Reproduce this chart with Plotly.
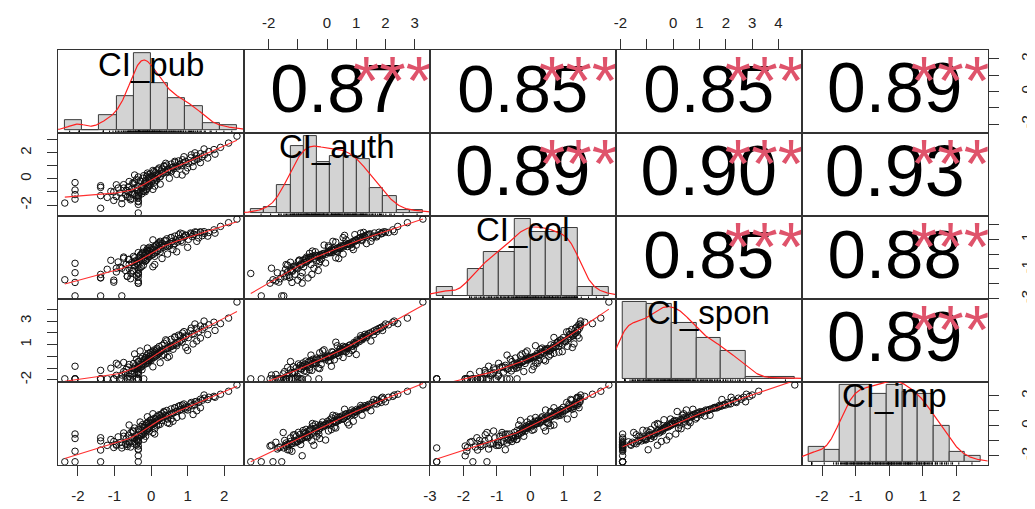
import numpy as np
import plotly.graph_objects as go

# ---------------- data (read / estimated from the reference) ----------------
var_names = ["CI_pub", "CI_auth", "CI_col", "CI_spon", "CI_imp"]

ci_pub = [-2.36, -2.08, -2.08, -2.08, -1.38, -1.38, -1.38, -1.20, -1.10, -1.02,
          -0.95, -0.90, -0.85, -0.80, -0.75, -0.70, -0.68, -0.65, -0.62, -0.60,
          -0.56, -0.53, -0.50, -0.48, -0.45, -0.42, -0.40, -0.38, -0.35, -0.35,
          -0.35, -0.35, -0.35, -0.33, -0.30, -0.28, -0.26, -0.25, -0.23, -0.21,
          -0.20, -0.18, -0.16, -0.15, -0.13, -0.12, -0.10, -0.09, -0.08, -0.06,
          -0.05, -0.04, -0.03, -0.02, 0.02, 0.04, 0.06, 0.08, 0.10, 0.12,
          0.14, 0.16, 0.18, 0.20, 0.22, 0.25, 0.28, 0.30, 0.33, 0.36,
          0.40, 0.43, 0.47, 0.52, 0.55, 0.58, 0.62, 0.65, 0.68, 0.72,
          0.75, 0.78, 0.82, 0.86, 0.90, 0.95, 1.02, 1.08, 1.12, 1.18,
          1.24, 1.30, 1.35, 1.40, 1.46, 1.58, 1.72, 1.90, 2.12, 2.35,
          -0.60, -0.35, -0.95, -0.20, -0.50, -0.35, -0.75, 0.05, -0.40, -0.25,
          -0.60, 0.10, -0.35, -0.15, 0.25, -0.45, -0.05, -0.30, 0.30, -0.20,
          0.15, 0.45, -0.10, 0.50, 0.20, 0.70, 0.05, 0.60, 0.85, 0.35,
          0.55, 1.00, 0.40, 0.95, 0.65, 1.15, 0.80, 1.25, 0.90, 1.35,
          1.10, 1.55, 1.20, 1.75, 1.45, -1.38, -0.35, -0.80, -1.02, -0.55,
          -0.65, -0.35, -2.08, -0.35, 0.00, 0.10, 0.45, -0.10, 0.25, -0.45]

ci_auth = [-1.85, -1.55, -0.85, -0.28, -2.25, -1.28, -0.52, -1.42, -0.95, -1.65,
           -1.35, -0.70, -1.08, -1.48, -0.44, -1.20, -0.87, -1.38, -0.60, -1.02,
           -1.60, -0.78, -1.18, -0.36, -1.12, -0.67, -1.30, -0.90, -2.61, -1.95,
           -1.75, -1.45, -1.25, -0.55, -1.05, -0.20, -1.15, -0.75, 0.05, -0.92,
           -0.63, -0.32, -0.98, -0.10, -0.82, 0.20, -0.72, -0.40, 0.32, -0.57,
           -0.15, 0.12, -0.48, 0.40, -0.24, 0.28, -0.05, 0.56, 0.09, 0.48,
           0.02, 0.68, 0.24, 0.36, 0.84, 0.16, 0.60, 0.76, 0.44, 0.95,
           0.52, 1.06, 0.72, 0.64, 1.14, 0.88, 0.80, 1.26, 0.98, 0.92,
           1.38, 1.10, 1.02, 1.47, 1.22, 1.34, 1.18, 1.62, 1.30, 1.42,
           1.78, 1.55, 1.94, 1.70, 1.86, 2.10, 2.25, 2.42, 2.75, 3.28,
           -1.40, -1.10, -0.45, -0.95, -0.30, -1.25, -0.70, -0.80, -0.05, -0.60,
           -0.20, -0.55, 0.15, -0.35, -0.40, 0.30, 0.05, -0.15, 0.40, 0.25,
           -0.10, 0.55, 0.45, 0.05, 0.75, 0.35, 0.65, 0.90, 0.30, 1.00,
           0.55, 0.85, 1.20, 0.60, 1.35, 0.95, 1.15, 1.50, 1.70, 1.25,
           1.85, 1.60, 2.00, 1.90, 2.30, -0.65, -1.70, -1.90, -1.00, -1.50,
           -0.90, -1.35, -1.20, -0.85, 0.10, -0.25, 0.70, -0.50, 0.20, -0.25]

ci_col = [-1.72, -2.80, -1.25, -0.62, -2.80, -1.58, -1.36, -1.02, -0.42, -1.88,
          -1.20, -0.53, -0.88, -2.80, -0.28, -1.10, -0.70, -1.48, -0.37, -0.97,
          -1.65, -0.57, -1.15, -0.16, -0.80, -0.45, -1.42, -0.66, -1.30, -1.95,
          -1.80, -1.52, -1.06, -0.22, -0.92, -0.04, -0.84, -0.34, 0.11, -0.75,
          -0.25, -0.10, -0.48, 0.05, -0.40, 0.26, -0.31, -0.08, 0.20, -0.19,
          0.02, 0.17, -0.13, 0.36, -0.06, 0.30, -0.02, 0.48, 0.08, 0.55,
          0.14, 0.64, 0.23, 0.40, 0.76, 0.33, 0.58, 0.70, 0.44, 0.88,
          0.52, 1.02, 0.67, 0.73, 1.11, 0.84, 0.61, 1.20, 0.95, 0.80,
          1.29, 1.05, 0.91, 1.35, 1.14, 1.26, 0.98, 1.41, 1.17, 1.32,
          1.46, 1.08, 1.49, 1.23, 1.38, 1.44, 1.62, 1.85, 2.10, 2.34,
          -0.70, -1.35, -0.95, -0.40, -1.10, -0.55, -0.20, -0.85, -0.60, 0.05,
          -0.35, -0.70, 0.10, -0.45, 0.15, -0.25, 0.45, -0.10, -0.30, 0.40,
          0.60, 0.00, 0.35, 0.55, 0.70, 0.15, 0.95, 0.30, 0.80, 0.60,
          1.10, 0.45, 0.90, 1.25, 0.70, 1.30, 1.40, 0.85, 1.15, 1.45,
          1.35, 1.20, 1.48, 1.40, 1.50, -1.60, -1.25, -0.95, -1.75, -1.30,
          -1.50, -0.75, -1.90, -1.95, 0.25, -0.15, 0.50, 0.20, 0.85, -0.50]

ci_spon = [-1.92, -1.92, -0.85, -1.92, -1.92, -1.92, -1.20, -1.92, -1.02, -1.92,
           -1.62, -0.73, -1.92, -1.92, -0.53, -1.40, -1.10, -1.92, -0.93, -1.70,
           -1.92, -1.25, -1.48, -0.61, -1.35, -0.81, -1.92, -1.06, -1.92, -1.92,
           -1.55, -1.30, -1.15, -0.45, -0.97, -0.21, -0.89, -0.69, -0.04, -0.77,
           -0.49, -0.29, -0.65, -0.09, -0.57, 0.08, -0.41, -0.33, 0.23, -0.37,
           -0.18, -0.02, -0.25, 0.33, -0.15, 0.18, -0.12, 0.53, -0.06, 0.43,
           0.03, 0.68, 0.13, 0.28, 0.83, 0.38, 0.48, 0.93, 0.58, 1.10,
           0.63, 1.31, 0.73, 0.78, 1.45, 0.88, 0.97, 1.66, 1.03, 1.17,
           1.80, 1.24, 1.38, 1.98, 1.52, 1.73, 1.59, 2.18, 1.87, 1.93,
           2.38, 2.08, 2.58, 2.28, 2.48, 2.68, 2.90, 2.78, 3.25, 4.62,
           -1.92, -1.40, -0.60, -1.92, -1.00, -0.45, -1.30, -0.90, -0.25, -1.15,
           -0.70, 0.10, -0.85, -0.15, -0.55, 0.20, -0.40, 0.45, 0.05, -0.30,
           0.55, -0.10, 0.70, 0.00, 0.25, 0.90, 0.40, 0.60, 1.20, 0.15,
           0.85, 0.50, 1.40, 0.75, 1.60, 1.05, 1.75, 1.30, 2.10, 1.55,
           2.40, 1.85, 2.75, 2.20, 3.00, -1.92, -1.92, -1.60, -1.92, -1.50,
           -1.92, -0.95, -1.92, -1.92, -0.35, 0.30, 0.65, -0.60, 0.35, -1.05]

ci_imp = [-2.40, -2.40, -0.85, -0.55, -2.40, -1.62, -1.01, -1.31, -0.92, -1.45,
          -1.24, -0.74, -1.13, -1.48, -0.48, -1.20, -0.88, -1.38, -0.64, -1.07,
          -1.42, -0.78, -1.17, -0.36, -1.04, -0.67, -1.27, -0.95, -2.40, -1.35,
          -1.10, -0.98, -0.81, -0.28, -0.71, -0.05, -0.61, -0.52, 0.08, -0.58,
          -0.40, -0.12, -0.44, 0.02, -0.32, 0.17, -0.24, -0.16, 0.26, -0.20,
          -0.08, 0.14, -0.02, 0.37, 0.05, 0.23, 0.11, 0.48, 0.20, 0.45,
          0.30, 0.62, 0.33, 0.41, 0.73, 0.52, 0.59, 0.80, 0.55, 0.90,
          0.66, 1.02, 0.69, 0.76, 1.12, 0.83, 0.87, 1.19, 0.94, 0.97,
          1.30, 1.05, 1.09, 1.38, 1.16, 1.26, 1.23, 1.46, 1.34, 1.42,
          1.62, 1.55, 1.77, 1.70, 1.84, 1.90, 1.96, 2.10, 2.30, 2.72,
          -1.15, -0.60, -1.30, -0.90, -0.35, -1.05, -0.70, -0.45, -0.95, -0.30,
          0.05, -0.55, -0.25, -0.70, 0.10, -0.15, -0.35, 0.25, 0.35, -0.10,
          0.00, 0.45, 0.60, 0.15, 0.05, 0.55, 0.80, 0.30, 0.65, 0.95,
          0.45, 1.05, 0.70, 1.10, 1.20, 0.75, 1.35, 1.00, 1.45, 1.20,
          1.55, 1.75, 1.60, 1.90, 2.05, -0.80, -1.55, -1.30, -1.05, -0.45,
          -1.25, -1.60, -1.70, -2.00, 0.40, -0.20, 0.20, 0.15, 0.70, -0.85]

# histogram breaks and bar heights
pub_breaks = [-2.5, -2.0, -1.5, -1.0, -0.5, 0.0, 0.5, 1.0, 1.5, 2.0, 2.5]
pub_heights = [10, 0, 15.5, 34, 78, 48, 32, 24, 6.5, 5]
auth_breaks = [-3.0, -2.5, -2.0, -1.5, -1.0, -0.5, 0.0, 0.5, 1.0, 1.5, 2.0, 2.5, 3.0, 3.5]
auth_heights = [4, 6, 28, 68, 78, 52, 58, 58, 55, 25, 17, 3, 3]
col_breaks = [-3.0, -2.5, -2.0, -1.5, -1.0, -0.5, 0.0, 0.5, 1.0, 1.5, 2.0, 2.5]
col_heights = [8.5, 0, 27, 43, 43, 76, 63.5, 63.5, 67, 8.5, 8.5]
spon_breaks = [-2, -1, 0, 1, 2, 3, 4, 5]
spon_heights = [69, 67, 50, 37, 25, 1.5, 1.5]
imp_breaks = [-2.5, -2.0, -1.5, -1.0, -0.5, 0.0, 0.5, 1.0, 1.5, 2.0, 2.5, 3.0]
imp_heights = [15, 11.5, 77, 77, 68, 77, 70, 68, 36, 10, 5.4]

# correlations shown in the upper panels
cor_row = [0, 0, 0, 0, 1, 1, 1, 2, 2, 3]
cor_col = [1, 2, 3, 4, 2, 3, 4, 3, 4, 4]
cor_value = [0.87, 0.85, 0.85, 0.89, 0.89, 0.90, 0.93, 0.85, 0.88, 0.89]
cor_stars = ["***", "***", "***", "***", "***", "***", "***", "***", "***", "***"]

# outer axis ticks
col1_ticks = [-2, -1, 0, 1, 2];          col1_labels = ["-2", "-1", "0", "1", "2"]
col2_ticks = [-2, -1, 0, 1, 2, 3];       col2_labels = ["-2", "", "0", "1", "2", "3"]
col3_ticks = [-3, -2, -1, 0, 1, 2];      col3_labels = ["-3", "-2", "-1", "0", "1", "2"]
col4_ticks = [-2, -1, 0, 1, 2, 3, 4];    col4_labels = ["-2", "", "0", "1", "2", "3", "4"]
col5_ticks = [-2, -1, 0, 1, 2];          col5_labels = ["-2", "-1", "0", "1", "2"]
row1_ticks = [-2, -1, 0, 1, 2];          row1_labels = ["-2", "", "0", "", "2"]
row2_ticks = [-2, -1, 0, 1, 2, 3];       row2_labels = ["-2", "", "0", "", "2", ""]
row3_ticks = [-3, -2, -1, 0, 1, 2];      row3_labels = ["-3", "", "-1", "", "1", ""]
row4_ticks = [-2, -1, 0, 1, 2, 3, 4];    row4_labels = ["-2", "", "", "1", "", "3", ""]
row5_ticks = [-2, -1, 0, 1, 2];          row5_labels = ["-2", "", "0", "", "2"]

# ---------------- helpers ----------------
data = [ci_pub, ci_auth, ci_col, ci_spon, ci_imp]
breaks = [pub_breaks, auth_breaks, col_breaks, spon_breaks, imp_breaks]
heights = [pub_heights, auth_heights, col_heights, spon_heights, imp_heights]

FONT = "Liberation Sans, Arial, sans-serif"
FRAME = "#333333"
STAR = "#DF536B"


def pad_range(lo, hi):
    d = 0.04 * (hi - lo)
    return [lo - d, hi + d]


def kde(v):
    v = np.asarray(v, float)
    n = v.size
    sd = v.std(ddof=1)
    q75, q25 = np.percentile(v, [75, 25])
    bw = 0.9 * min(sd, (q75 - q25) / 1.34) * n ** -0.2
    g = np.linspace(v.min() - 3 * bw, v.max() + 3 * bw, 400)
    d = np.exp(-0.5 * ((g[:, None] - v[None, :]) / bw) ** 2).sum(1) / (n * bw * np.sqrt(2 * np.pi))
    return g, d


def lowess(x, y, f=2 / 3, iters=3):
    x = np.asarray(x, float)
    y = np.asarray(y, float)
    o = np.argsort(x, kind="mergesort")
    x, y = x[o], y[o]
    n = x.size
    r = max(2, int(np.floor(f * n + 1e-7)))
    rob = np.ones(n)
    fit = np.zeros(n)
    for _ in range(iters + 1):
        for i in range(n):
            d = np.abs(x - x[i])
            h = max(np.sort(d)[r - 1], 1e-9)
            u = np.clip(d / h, 0, 1)
            w = (1 - u ** 3) ** 3 * rob
            sw = w.sum()
            xm = (w * x).sum() / sw
            ym = (w * y).sum() / sw
            sxx = (w * (x - xm) ** 2).sum()
            b = (w * (x - xm) * (y - ym)).sum() / sxx if sxx > 1e-12 else 0.0
            fit[i] = ym + b * (x[i] - xm)
        res = y - fit
        s = np.median(np.abs(res))
        if s <= 0:
            break
        u = np.clip(res / (6 * s), -1, 1)
        rob = (1 - u ** 2) ** 2
    return x, fit


def ax_id(n, letter):
    return letter if n == 1 else f"{letter}{n}"


def ax_key(n, letter):
    return f"{letter}axis" if n == 1 else f"{letter}axis{n}"


ranges = [pad_range(min(v), max(v)) for v in data]

# the page places the figure 8 px in from the window's top-left corner
PAGE_OFF = 8
W_PX, H_PX = 1035 - PAGE_OFF, 509 - PAGE_OFF
LEFT, RIGHT, TOP, BOTTOM = 52.7 - PAGE_OFF, 999.0 - PAGE_OFF, 50.5 - PAGE_OFF, 468.5 - PAGE_OFF
CW = (RIGHT - LEFT) / 5
RH = (BOTTOM - TOP) / 5

x_tick_axes = {(4, 0): (col1_ticks, col1_labels, "bottom"),
               (0, 1): (col2_ticks, col2_labels, "top"),
               (4, 2): (col3_ticks, col3_labels, "bottom"),
               (0, 3): (col4_ticks, col4_labels, "top"),
               (4, 4): (col5_ticks, col5_labels, "bottom")}
y_tick_axes = {(0, 4): (row1_ticks, row1_labels, "right"),
               (1, 0): (row2_ticks, row2_labels, "left"),
               (2, 4): (row3_ticks, row3_labels, "right"),
               (3, 0): (row4_ticks, row4_labels, "left"),
               (4, 4): (row5_ticks, row5_labels, "right")}

fig = go.Figure()
layout = {}
annotations = []

for i in range(5):
    for j in range(5):
        n = i * 5 + j + 1
        xa_id, ya_id = ax_id(n, "x"), ax_id(n, "y")
        xd = [(LEFT + j * CW) / W_PX, (LEFT + (j + 1) * CW) / W_PX]
        yd = [1 - (TOP + (i + 1) * RH) / H_PX, 1 - (TOP + i * RH) / H_PX]
        common = dict(showgrid=False, zeroline=False, showline=True, mirror=True,
                      linecolor=FRAME, linewidth=1, ticks="", showticklabels=False,
                      fixedrange=True)
        xa = dict(domain=xd, range=ranges[j], anchor=ya_id, **common)
        ya = dict(domain=yd, range=ranges[i], anchor=xa_id, **common)
        tick_common = dict(ticks="outside", ticklen=10, tickwidth=1, tickcolor=FRAME,
                           tickmode="array", showticklabels=True,
                           tickfont=dict(size=15, family=FONT, color="#222222"))
        if (i, j) in x_tick_axes:
            tv, tt, side = x_tick_axes[(i, j)]
            xa.update(tick_common, tickvals=tv, ticktext=tt, side=side,
                      ticklabelstandoff=5 if side == "top" else 7)
        if (i, j) in y_tick_axes:
            tv, tt, side = y_tick_axes[(i, j)]
            ya.update(tick_common, tickvals=tv, ticktext=tt, side=side, tickangle=-90,
                      ticklabelstandoff=10 if side == "left" else 15)
        layout[ax_key(n, "x")] = xa
        layout[ax_key(n, "y")] = ya

        if i == j:
            # histogram: its own x limits (range of breaks) and y limits (0..max density),
            # mapped linearly onto the panel like R's par(new=TRUE) + hist()
            b = np.asarray(breaks[i], float)
            h = np.asarray(heights[i], float)
            w = np.diff(b)
            dens = h / (h.sum() * w)
            M = dens.max()
            hx = pad_range(b[0], b[-1])
            hy = [-0.04 * M, 1.04 * M]
            mx, my = ranges[j], ranges[i]
            sx = (mx[1] - mx[0]) / (hx[1] - hx[0])
            sy = (my[1] - my[0]) / (hy[1] - hy[0])
            tx = lambda v: mx[0] + (np.asarray(v, float) - hx[0]) * sx
            ty = lambda v: my[0] + (np.asarray(v, float) - hy[0]) * sy
            fig.add_trace(go.Bar(x=tx((b[:-1] + b[1:]) / 2), y=dens * sy, base=ty(0.0),
                                 width=w * sx,
                                 marker=dict(color="#D3D3D3", line=dict(color="#3a3a3a", width=1)),
                                 xaxis=xa_id, yaxis=ya_id, hoverinfo="skip"))
            g, d = kde(data[i])
            fig.add_trace(go.Scatter(x=tx(g), y=ty(d), mode="lines",
                                     line=dict(color="#FF2020", width=1.2),
                                     xaxis=xa_id, yaxis=ya_id, hoverinfo="skip", cliponaxis=True))
            rx, ry = [], []
            y0 = float(ty(hy[0]))
            y1 = float(ty(hy[0] + 0.03 * (hy[1] - hy[0])))
            for v in data[i]:
                xv = float(tx(v))
                rx += [xv, xv, None]
                ry += [y0, y1, None]
            fig.add_trace(go.Scatter(x=rx, y=ry, mode="lines", line=dict(color="black", width=1),
                                     xaxis=xa_id, yaxis=ya_id, hoverinfo="skip"))
            # variable name at (0.5, 0.833) of the panel
            annotations.append(dict(text=var_names[i], xref="paper", yref="paper",
                                    x=(LEFT + (j + 0.5) * CW) / W_PX,
                                    y=1 - (TOP + i * RH + (1 - 0.833) * RH) / H_PX,
                                    showarrow=False, xanchor="center", yanchor="middle",
                                    font=dict(size=33, family=FONT, color="black")))
        elif i > j:
            fig.add_trace(go.Scatter(x=data[j], y=data[i], mode="markers",
                                     marker=dict(symbol="circle-open", size=6.5, color="#111111",
                                                 line=dict(width=1)),
                                     xaxis=xa_id, yaxis=ya_id, hoverinfo="skip"))
            lx, ly = lowess(data[j], data[i])
            fig.add_trace(go.Scatter(x=lx, y=ly, mode="lines", line=dict(color="#FF3030", width=1.1),
                                     xaxis=xa_id, yaxis=ya_id, hoverinfo="skip"))

# correlation texts in the upper panels
for r_i, c_j, val, st in zip(cor_row, cor_col, cor_value, cor_stars):
    n = r_i * 5 + c_j + 1
    xr_, yr_ = ranges[c_j], ranges[r_i]
    fx = lambda f: xr_[0] + f * (xr_[1] - xr_[0])
    fy = lambda f: yr_[0] + f * (yr_[1] - yr_[0])
    fig.add_trace(go.Scatter(x=[fx(0.5)], y=[fy(0.46)], mode="text", text=[f"{val:.2f}"],
                             textposition="middle center", cliponaxis=True,
                             textfont=dict(size=76 * (abs(val) + 0.3) / 1.3, family=FONT, color="black"),
                             xaxis=ax_id(n, "x"), yaxis=ax_id(n, "y"), hoverinfo="skip"))
    fig.add_trace(go.Scatter(x=[fx(0.8)], y=[fy(0.55)], mode="text", text=[st],
                             textposition="middle center", cliponaxis=True,
                             textfont=dict(size=68, family=FONT, color=STAR),
                             xaxis=ax_id(n, "x"), yaxis=ax_id(n, "y"), hoverinfo="skip"))

fig.update_layout(width=W_PX, height=H_PX, margin=dict(l=0, r=0, t=0, b=0),
                  paper_bgcolor="white", plot_bgcolor="white", showlegend=False,
                  hovermode=False, font=dict(family=FONT), annotations=annotations,
                  bargap=0, barmode="overlay", **layout)

fig.write_html("out.html")
